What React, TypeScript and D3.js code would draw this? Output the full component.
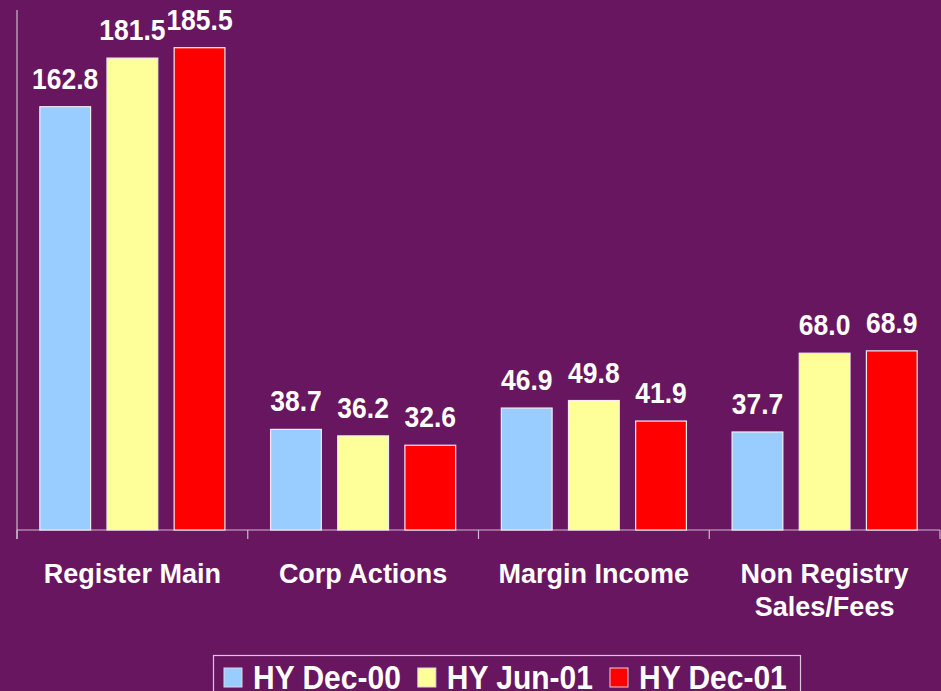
import * as d3 from "d3";
import { useEffect, useRef } from "react";

const categories = ["Register Main", "Corp Actions", "Margin Income", "Non Registry\nSales/Fees"];
const series = ["HY Dec-00", "HY Jun-01", "HY Dec-01"];
const dec00 = [162.8, 38.7, 46.9, 37.7];
const jun01 = [181.5, 36.2, 49.8, 68.0];
const dec01 = [185.5, 32.6, 41.9, 68.9];
const colors = ["#99CCFF", "#FFFF99", "#FF0000"];

const W = 941;
const H = 691;
const FONT = "'Liberation Sans', Arial, sans-serif";

export default function App() {
  const ref = useRef<SVGSVGElement>(null);

  useEffect(() => {
    if (!ref.current) return;
    const svg = d3.select(ref.current);
    svg.selectAll("*").remove();

    const values = [dec00, jun01, dec01];

    svg.append("rect").attr("width", W).attr("height", H).attr("fill", "#681660");

    const x0 = d3.scaleBand<string>().domain(categories).range([17, 940]);
    const x1 = d3
      .scaleBand<string>()
      .domain(series)
      .range([0, x0.bandwidth()])
      .paddingInner(0.244)
      .paddingOuter(0.34);
    const y = d3.scaleLinear().domain([0, 200]).range([530, 10]);

    const axisColor = "#cdb9cf";
    // axes
    svg.append("line").attr("x1", 17).attr("x2", 17).attr("y1", y(200)).attr("y2", 539)
      .attr("stroke", axisColor).attr("stroke-width", 1.2);
    svg.append("line").attr("x1", 17).attr("x2", 940).attr("y1", y(0)).attr("y2", y(0))
      .attr("stroke", axisColor).attr("stroke-width", 1.2);
    const ticks = categories.map((c) => x0(c)!).concat([x0.range()[1]]);
    svg.selectAll("line.tick").data(ticks).enter().append("line")
      .attr("x1", (d) => d).attr("x2", (d) => d).attr("y1", y(0)).attr("y2", 539)
      .attr("stroke", axisColor).attr("stroke-width", 1.2);

    const groups = svg.selectAll("g.cat").data(categories).enter().append("g")
      .attr("transform", (c) => `translate(${x0(c)},0)`);

    series.forEach((s, si) => {
      groups.append("rect")
        .attr("x", x1(s)!)
        .attr("width", x1.bandwidth())
        .attr("y", (_c, i) => y(values[si][i]))
        .attr("height", (_c, i) => y(0) - y(values[si][i]))
        .attr("fill", colors[si])
        .attr("stroke", "#f2ecf2")
        .attr("stroke-width", 1.2);
      groups.append("text")
        .attr("transform", (_c, i) =>
          `translate(${x1(s)! + x1.bandwidth() / 2},${y(values[si][i]) - 18}) scale(1,1.1)`)
        .attr("text-anchor", "middle")
        .attr("font-family", FONT)
        .attr("font-weight", "bold")
        .attr("font-size", 26.5)
        .attr("fill", "#fff")
        .text((_c, i) => values[si][i].toFixed(1));
    });

    // category labels
    groups.each(function (c) {
      const lines = c.split("\n");
      const t = d3.select(this).append("text")
        .attr("text-anchor", "middle")
        .attr("font-family", FONT)
        .attr("font-weight", "bold")
        .attr("font-size", 27)
        .attr("fill", "#fff");
      lines.forEach((l, li) => {
        t.append("tspan").attr("x", x0.bandwidth() / 2).attr("y", 583 + li * 33).text(l);
      });
    });

    // legend
    const lg = svg.append("g");
    lg.append("rect").attr("x", 213.5).attr("y", 655.5).attr("width", 587).attr("height", 50)
      .attr("fill", "none").attr("stroke", "#d8c8d8").attr("stroke-width", 1.2);
    let lx = 224;
    series.forEach((s, si) => {
      lg.append("rect").attr("x", lx).attr("y", 668).attr("width", 18).attr("height", 19)
        .attr("fill", colors[si]).attr("stroke", "#e0d4e0").attr("stroke-width", 1);
      const t = lg.append("text")
        .attr("transform", `translate(${lx + 29},689) scale(1,1.12)`)
        .attr("font-family", FONT).attr("font-weight", "bold").attr("font-size", 30)
        .attr("fill", "#fff").text(s);
      const w = (t.node() as SVGTextElement).getComputedTextLength();
      lx += 29 + w + 17;
    });
  }, []);

  return (
    <svg
      ref={ref}
      width={W}
      height={H}
      style={{ position: "absolute", left: 0, top: 0, display: "block" }}
    />
  );
}
